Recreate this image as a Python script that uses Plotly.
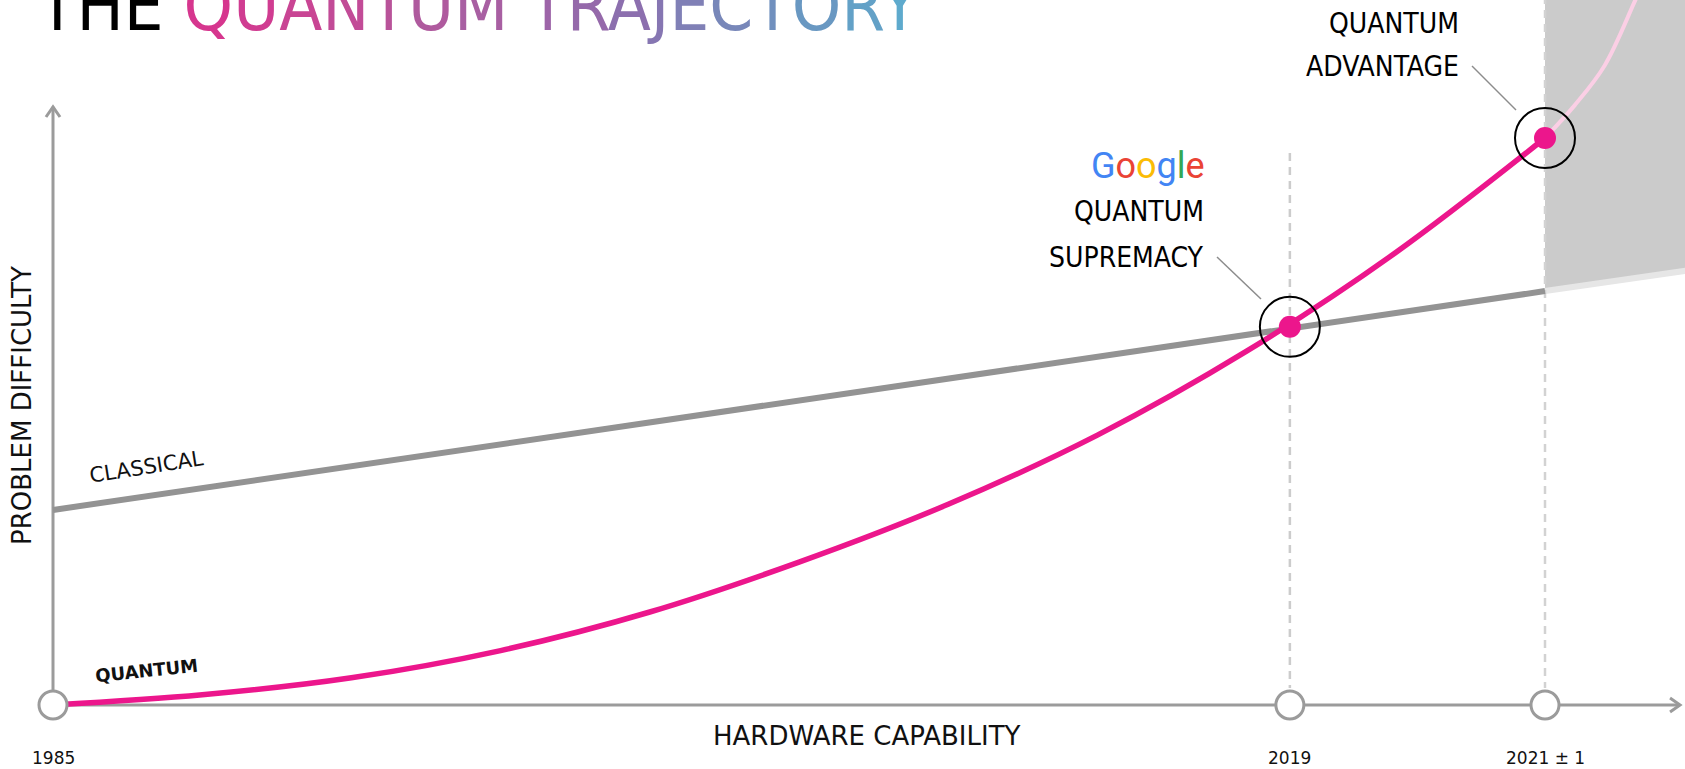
import plotly.graph_objects as go

# hardware capability index (1985 -> 0, 2021 -> 1) and problem difficulty
quantum_x = [0, 0.1, 0.2, 0.3, 0.4, 0.5, 0.6, 0.7, 0.8, 0.9, 1.0]
quantum_y = [0, 0.018, 0.048, 0.096, 0.164, 0.252, 0.354, 0.476, 0.624, 0.798, 1.0]
quantum_future_x = [1.0, 1.02, 1.04, 1.06, 1.075]
quantum_future_y = [1.0, 1.058, 1.128, 1.24, 1.33]

classical_x = [0, 0.829, 1.0]
classical_y = [0.344, 0.664, 0.730]
classical_future_x = [1.0, 1.10]
classical_future_y = [0.730, 0.768]

milestone_x = [0, 0.829, 1.0]
milestone_labels = ["1985", "2019", "2021 ± 1"]
event_x = [0.829, 1.0]
event_y = [0.667, 1.0]

title_colors = ["#D6368E", "#D03C91", "#C94594", "#C24B97", "#B85399", "#AF5A9E", "#A85FA2",
                "#9D64A8", "#9569AA", "#8C6FAE", "#8676B2", "#8080B6", "#7887B9", "#7090BE",
                "#6998C2", "#63A1C7", "#5EAACD"]
google_colors = ["#4285F4", "#EA4335", "#FBBC05", "#4285F4", "#34A853", "#EA4335"]

PINK = "#EC168C"
GREY = "#939393"
AXIS = "#9b9b9b"
W, H = 1685, 769
COND = "DejaVu Sans Condensed, sans-serif"
GEO = "DejaVu Sans, sans-serif"


def px(v):
    return v / W


def py(v):
    return 1 - v / H


def label(x, y, text, font, **kw):
    fig.add_annotation(x=px(x), y=py(y), xref="paper", yref="paper", text=text, showarrow=False,
                       xanchor=kw.pop("xanchor", "center"), yanchor="middle", font=font, **kw)


fig = go.Figure()

# future region (shaded)
fig.add_trace(go.Scatter(x=[1.0, 1.10, 1.10, 1.0], y=[0.730, 0.768, 1.4, 1.4], fill="toself",
                         fillcolor="#cbcbcb", line=dict(width=0), mode="lines", hoverinfo="skip"))
fig.add_trace(go.Scatter(x=classical_future_x, y=classical_future_y, mode="lines",
                         line=dict(color="#e6e6e6", width=6)))
fig.add_trace(go.Scatter(x=quantum_future_x, y=quantum_future_y, mode="lines", line_shape="spline",
                         line=dict(color="#fbcfe5", width=4)))

# dashed guides
fig.add_trace(go.Scatter(x=[0.829, 0.829], y=[0.9735, 0.03], mode="lines",
                         line=dict(color="#cccccc", width=2.5, dash="8px,6px")))
fig.add_trace(go.Scatter(x=[1.0, 1.0], y=[1.30, 0.03], mode="lines",
                         line=dict(color="#d2d2d2", width=2.5, dash="8px,6px")))

# axes
fig.add_trace(go.Scatter(x=[0, 0], y=[0, 1.055], mode="lines", line=dict(color=AXIS, width=3)))
fig.add_trace(go.Scatter(x=[-0.0047, 0, 0.0047], y=[1.037, 1.055, 1.037], mode="lines",
                         line=dict(color=AXIS, width=3)))
fig.add_trace(go.Scatter(x=[0, 1.0905], y=[0, 0], mode="lines", line=dict(color=AXIS, width=3)))
fig.add_trace(go.Scatter(x=[1.0838, 1.0905, 1.0838], y=[0.0123, 0, -0.0123], mode="lines",
                         line=dict(color=AXIS, width=3)))

# curves
fig.add_trace(go.Scatter(x=classical_x, y=classical_y, mode="lines", line=dict(color=GREY, width=6)))
fig.add_trace(go.Scatter(x=quantum_x, y=quantum_y, mode="lines", line_shape="spline",
                         line=dict(color=PINK, width=5.5)))

# milestone markers
fig.add_trace(go.Scatter(x=milestone_x, y=[0] * len(milestone_x), mode="markers", cliponaxis=False,
                         marker=dict(size=28, color="white", line=dict(color=AXIS, width=3))))
fig.add_trace(go.Scatter(x=event_x, y=event_y, mode="markers",
                         marker=dict(size=22, color=PINK, line=dict(width=0))))
fig.add_trace(go.Scatter(x=event_x, y=event_y, mode="markers",
                         marker=dict(size=60, symbol="circle-open", color="black", line=dict(width=2))))

for xv, lab in zip(milestone_x, milestone_labels):
    fig.add_annotation(x=xv, y=py(758), yref="paper", text=lab, showarrow=False,
                       xanchor="center", yanchor="middle", font=dict(family=GEO, size=17, color="#111"))

# title
title = "THE " + "".join(
    f"<span style='color:{c}'>{ch}</span>"
    for ch, c in zip("QUANTUM", title_colors[:7])
) + " " + "".join(
    f"<span style='color:{c}'>{ch}</span>"
    for ch, c in zip("TRAJECTORY", title_colors[7:])
)
label(35, 6, title, dict(family=COND, size=70, color="black"), xanchor="left")

# event labels
big = dict(family=COND, size=28, color="black")
label(1206, 212, "QUANTUM", big, xanchor="right")
label(1206, 257, "SUPREMACY", big, xanchor="right")
label(1461, 23, "QUANTUM", big, xanchor="right")
label(1461, 67, "ADVANTAGE", big, xanchor="right")
google = "".join(f"<span style='color:{c}'>{ch}</span>" for ch, c in zip("Google", google_colors))
label(1148, 166, google, dict(family="Roboto, sans-serif", size=36))

fig.add_shape(type="line", xref="paper", yref="paper", x0=px(1217), y0=py(257), x1=px(1261), y1=py(299),
              line=dict(color="#8c8c8c", width=1.5))
fig.add_shape(type="line", xref="paper", yref="paper", x0=px(1472), y0=py(66), x1=px(1516), y1=py(110),
              line=dict(color="#8c8c8c", width=1.5))

# series labels
label(146, 467, "CLASSICAL", dict(family=GEO, size=21, color="#111"), textangle=-9)
label(146, 670, "<b>QUANTUM</b>", dict(family=GEO, size=18, color="#111"), textangle=-6)

# axis titles
label(867, 736, "HARDWARE CAPABILITY", dict(family=GEO, size=26, color="#111"))
label(22, 406, "PROBLEM DIFFICULTY", dict(family=GEO, size=26, color="#111"), textangle=-90)

fig.update_xaxes(visible=False, range=[-0.03552, 1.09383])
fig.update_yaxes(visible=False, range=[-0.11287, 1.24339])
fig.update_layout(width=W, height=H, margin=dict(l=0, r=0, t=0, b=0), showlegend=False,
                  paper_bgcolor="white", plot_bgcolor="white")

fig.write_html("out.html", config={"displayModeBar": False},
               post_script="document.body.style.margin='0';")
